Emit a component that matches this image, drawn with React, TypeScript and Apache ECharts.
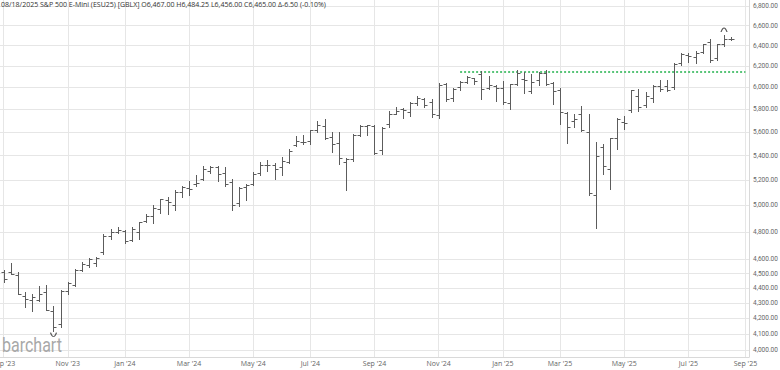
import React, { useEffect, useRef } from 'react';
import * as echarts from 'echarts';

// ---- data ----
const START_WEEK = '2023-09-04';
const WEEK_COUNT = 105; // Sep 4 2023 .. Sep 1 2025 (last two weeks empty)

const opens = [
  4515, 4510, 4489, 4349, 4319, 4321, 4372, 4247, 4161, 4383, 4421, 4523, 4562, 4574,
  4652, 4772, 4801, 4808, 4738, 4797, 4882, 4917, 4971, 5043, 5002, 5102, 5136,
  5170, 5210, 5271, 5304, 5260, 5187, 5022, 5144, 5169, 5255, 5323, 5325, 5307, 5347,
  5490, 5512, 5519, 5616, 5654, 5560, 5506, 5350, 5375, 5575, 5652, 5655, 5448,
  5670, 5762, 5804, 5780, 5858, 5892, 5864, 5750, 6032, 5902, 6006, 6050, 6089,
  6121, 5994, 6015, 5995, 5855, 6035, 6080, 5965, 6064, 6136, 6037, 5977, 5765,
  5698, 5758, 5600, 5080, 5469, 5290, 5551, 5690, 5790, 5917, 5835, 5905, 6009,
  6015, 6000, 6233, 6310, 6289, 6336, 6435, 6275, 6415, 6467,
];
const highs = [
  4525, 4575, 4510, 4377, 4359, 4417, 4422, 4281, 4387, 4443, 4536, 4580, 4607, 4614,
  4788, 4825, 4836, 4812, 4833, 4874, 4933, 5000, 5051, 5065, 5124, 5150, 5194,
  5238, 5317, 5317, 5311, 5306, 5210, 5148, 5169, 5265, 5347, 5360, 5335, 5386, 5453,
  5562, 5576, 5618, 5700, 5710, 5598, 5596, 5383, 5585, 5661, 5665, 5660, 5642,
  5788, 5818, 5812, 5865, 5919, 5898, 5894, 6039, 6041, 5997, 6058, 6109, 6091,
  6155, 6104, 6020, 6057, 6031, 6158, 6145, 6123, 6146, 6162, 6054, 5994, 5775,
  5758, 5826, 5760, 5513, 5500, 5552, 5723, 5740, 5977, 5983, 5960, 6024, 6064,
  6070, 6230, 6324, 6328, 6348, 6420, 6468, 6418, 6505, 6484.25,
];
const lows = [
  4440, 4496, 4361, 4277, 4251, 4316, 4252, 4122, 4145, 4362, 4416, 4518, 4545, 4551,
  4640, 4747, 4794, 4721, 4734, 4746, 4877, 4870, 4939, 4937, 4966, 5066, 5082,
  5151, 5202, 5256, 5193, 5150, 4968, 4997, 5041, 5160, 5243, 5274, 5206, 5244, 5335,
  5482, 5498, 5496, 5599, 5537, 5426, 5332, 5120, 5353, 5570, 5575, 5412, 5412,
  5645, 5759, 5722, 5738, 5839, 5819, 5733, 5723, 5876, 5874, 5971, 6036, 6031,
  5890, 5986, 5874, 5844, 5804, 6025, 5949, 5945, 6021, 6024, 5848, 5674, 5509,
  5640, 5612, 5085, 4832, 5248, 5126, 5456, 5623, 5780, 5782, 5825, 5869, 5967,
  5962, 5986, 6212, 6238, 6234, 6326, 6240, 6262, 6395, 6456,
];
const closes = [
  4462, 4498, 4364, 4327, 4343, 4359, 4253, 4142, 4379, 4434, 4529, 4571, 4603, 4609,
  4769, 4802, 4813, 4736, 4819, 4872, 4920, 4984, 5048, 5023, 5102, 5146, 5129,
  5176, 5290, 5306, 5251, 5166, 5005, 5134, 5158, 5249, 5325, 5323, 5292, 5357, 5438,
  5521, 5512, 5615, 5659, 5545, 5494, 5377, 5369, 5576, 5652, 5662, 5418, 5632,
  5758, 5789, 5798, 5858, 5905, 5843, 5760, 6023, 5893, 5988, 6046, 6100, 6057,
  5989, 6025, 5991, 5862, 6028, 6130, 6066, 6048, 6133, 6028, 5966, 5778, 5643,
  5710, 5621, 5095, 5394, 5311, 5549, 5710, 5680, 5976, 5818, 5923, 6008, 5981,
  5978, 6216, 6320, 6297, 6330, 6419, 6260, 6412, 6468, 6465,
];

const yTicks = [4000, 4100, 4200, 4300, 4400, 4500, 4600, 4800, 5000, 5200, 5400, 5600, 5800, 6000, 6200, 6400, 6600, 6800];
const yMin = 3957;
const yMax = 6866;
const resistanceLevel = 6145;
const resistanceStartWeek = 64;
const lastPrice = 6465;
const titleText = '08/18/2025 S&P 500 E-Mini (ESU25) [GBLX] O6,467.00 H6,484.25 L6,456.00 C6,465.00 \u0394-6.50 (-0.10%)';
const MONTHS = ['Jan', 'Feb', 'Mar', 'Apr', 'May', 'Jun', 'Jul', 'Aug', 'Sep', 'Oct', 'Nov', 'Dec'];

function buildWeeks(): string[] {
  const [y, m, d] = START_WEEK.split('-').map(Number);
  const base = Date.UTC(y, m - 1, d);
  const out: string[] = [];
  for (let i = 0; i < WEEK_COUNT; i++) {
    const dt = new Date(base + i * 7 * 86400000);
    out.push(dt.toISOString().slice(0, 10));
  }
  return out;
}
const weeks = buildWeeks();

const isMonthLabel = (_: number, val: string) => {
  const day = Number(val.slice(8, 10));
  const month = Number(val.slice(5, 7)) - 1;
  return day <= 7 && month % 2 === 0;
};
const monthLabel = (val: string) => `${MONTHS[Number(val.slice(5, 7)) - 1]} '${val.slice(2, 4)}`;
const fmtPrice = (v: number) =>
  Number(v).toLocaleString('en-US', { minimumFractionDigits: 2, maximumFractionDigits: 2 });

const BAR_COLOR = '#5c5c5c';
const GRID_COLOR = '#e6e6e6';
const FONT = 'Open Sans';
const NUM_FONT = 'Roboto';

export default function App() {
  const ref = useRef<HTMLDivElement>(null);
  useEffect(() => {
    if (!ref.current) return;
    const chart = echarts.init(ref.current, undefined, { renderer: 'svg' });
    const data = opens.map((o, i) => [i, o, highs[i], lows[i], closes[i]]);
    let hiIdx = 0;
    let loIdx = 0;
    highs.forEach((h, i) => { if (h > highs[hiIdx]) hiIdx = i; });
    lows.forEach((l, i) => { if (l < lows[loIdx]) loIdx = i; });

    const renderItem = (_p: any, api: any) => {
      const idx = api.value(0);
      const o = api.coord([idx, api.value(1)]);
      const h = api.coord([idx, api.value(2)]);
      const l = api.coord([idx, api.value(3)]);
      const c = api.coord([idx, api.value(4)]);
      const x = Math.round(h[0]) + 0.5;
      const oy = Math.round(o[1]) + 0.5;
      const cy = Math.round(c[1]) + 0.5;
      const st = { stroke: BAR_COLOR, lineWidth: 1 };
      return {
        type: 'group',
        children: [
          { type: 'line', shape: { x1: x, y1: Math.round(h[1]), x2: x, y2: Math.round(l[1]) + 1 }, style: st },
          { type: 'line', shape: { x1: x - 3, y1: oy, x2: x, y2: oy }, style: st },
          { type: 'line', shape: { x1: x, y1: cy, x2: x + 3, y2: cy }, style: st },
        ],
      };
    };

    chart.setOption({
      animation: false,
      backgroundColor: '#ffffff',
      textStyle: { fontFamily: FONT },
      title: {
        text: titleText,
        left: 0,
        top: 0,
        padding: [1, 1],
        textStyle: { fontSize: 7, fontWeight: 'normal', color: '#333', fontFamily: FONT },
      },
      grid: { left: 0, right: 31, top: 0, bottom: 13, containLabel: false, outerBoundsMode: 'none' },
      xAxis: {
        type: 'category',
        data: weeks,
        boundaryGap: true,
        axisLine: { show: true, lineStyle: { color: '#d9d9d9' } },
        axisTick: { show: false, interval: isMonthLabel, alignWithLabel: true },
        axisLabel: {
          interval: isMonthLabel,
          formatter: monthLabel,
          fontSize: 7,
          color: '#666',
          margin: 3,
          hideOverlap: false,
          fontFamily: FONT,
        },
        splitLine: { show: true, interval: isMonthLabel, alignWithLabel: true, lineStyle: { color: GRID_COLOR, width: 1 } },
      },
      yAxis: {
        type: 'log',
        logBase: 10,
        position: 'right',
        min: yMin,
        max: yMax,
        axisLine: { show: true, lineStyle: { color: '#d9d9d9' } },
        axisTick: { show: false, customValues: yTicks },
        axisLabel: {
          customValues: yTicks,
          formatter: (v: number) => fmtPrice(v),
          fontSize: 6.5,
          color: '#666',
          margin: 4,
          fontFamily: NUM_FONT,
        },
        splitLine: { show: true, lineStyle: { color: GRID_COLOR, width: 1 } },
      },
      graphic: [
        {
          type: 'text',
          x: 2,
          y: 335,
          scaleX: 0.8,
          style: { text: 'barchart', fontSize: 20, fill: '#a8a8a8', fontFamily: 'Roboto' },
          z: 1,
        },
      ],
      series: [
        {
          type: 'custom',
          name: 'ES',
          data,
          encode: { x: 0, y: [1, 2, 3, 4] },
          renderItem,
          clip: false,
          z: 5,
          markLine: {
            silent: true,
            symbol: ['none', 'none'],
            data: [
              [
                { coord: [resistanceStartWeek, resistanceLevel], lineStyle: { color: '#22b14c', type: [2, 2], width: 1.5 }, label: { show: false } },
                { coord: [WEEK_COUNT - 1, resistanceLevel] },
              ],
              {
                yAxis: lastPrice,
                lineStyle: { opacity: 0 },
                label: {
                  show: true,
                  position: 'end',
                  formatter: fmtPrice(lastPrice),
                  backgroundColor: '#000',
                  color: '#fff',
                  fontWeight: 'bold',
                  fontSize: 6.5,
                  padding: [2, 1, 1, 1],
                  distance: 3,
                  fontFamily: NUM_FONT,
                },
              },
            ],
          },
          markPoint: {
            silent: true,
            data: [
              {
                coord: [hiIdx, highs[hiIdx]],
                symbol: 'path://M0,10 Q10,-6 20,10',
                symbolSize: [6, 4],
                symbolOffset: [0, -5],
                itemStyle: { color: 'none', borderColor: '#555', borderWidth: 1 },
                label: { show: false },
              },
              {
                coord: [loIdx, lows[loIdx]],
                symbol: 'path://M0,0 Q10,16 20,0',
                symbolSize: [6, 4],
                symbolOffset: [0, 4],
                itemStyle: { color: 'none', borderColor: '#555', borderWidth: 1 },
                label: { show: false },
              },
            ],
          },
        },
      ],
    });
    return () => chart.dispose();
  }, []);
  return (
    <div
      ref={ref}
      style={{ position: 'absolute', left: 0, top: 0, width: 780, height: 370, background: '#fff' }}
    />
  );
}
